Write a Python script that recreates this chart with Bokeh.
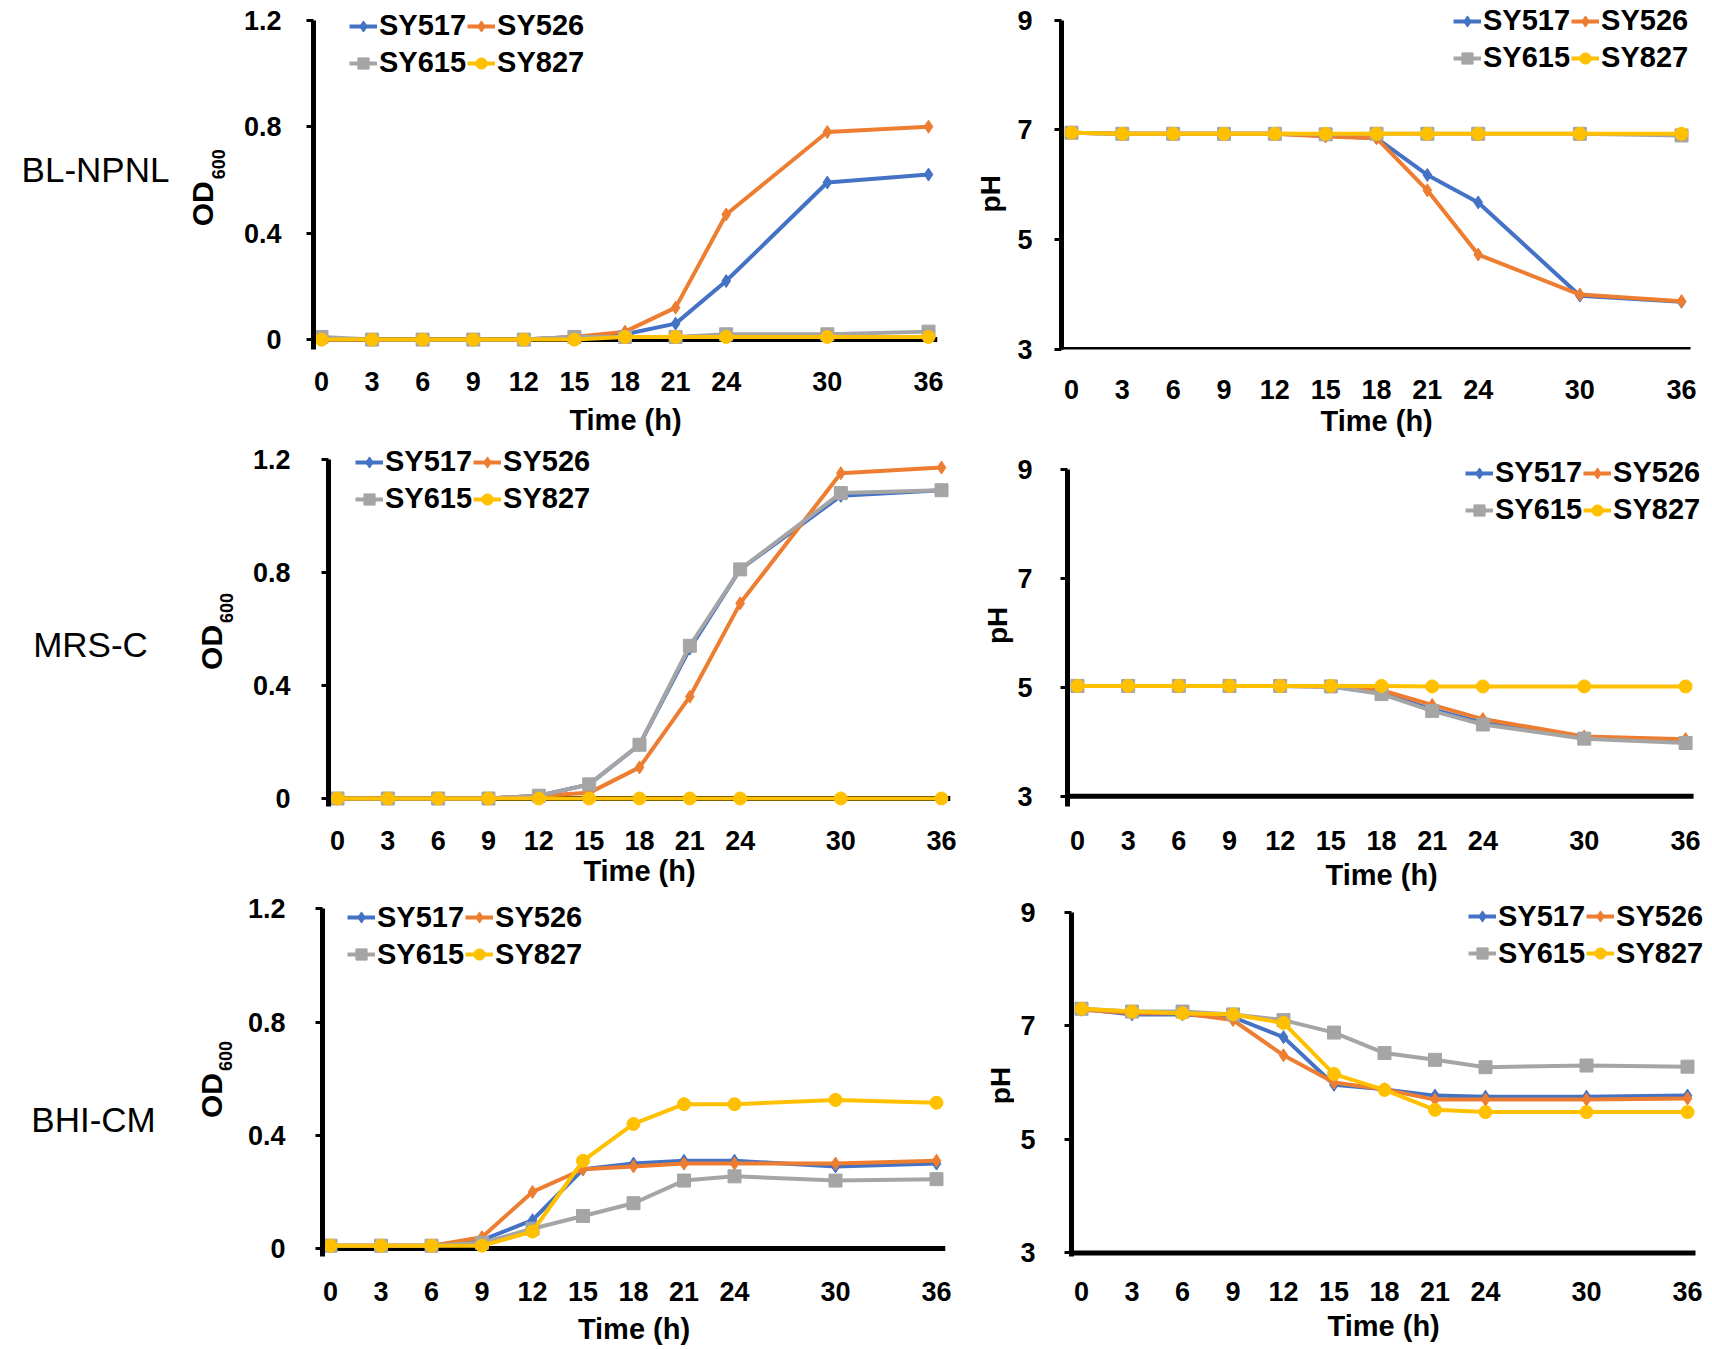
import math
from bokeh.plotting import figure
from bokeh.models import Range1d, FixedTicker, Legend, LegendItem, Label, Title
from bokeh.layouts import row, column
from bokeh.embed import file_html
from bokeh.resources import INLINE

# ---------------- data ----------------
time_h = [0, 3, 6, 9, 12, 15, 18, 21, 24, 30, 36]
strains = ["SY517", "SY526", "SY615", "SY827"]
colors = ["#4472C4", "#ED7D31", "#A5A5A5", "#FFC000"]
markers = ["diamond", "diamond", "square", "circle"]
media = ["BL-NPNL", "MRS-C", "BHI-CM"]
od_ticks = [0, 0.4, 0.8, 1.2]
ph_ticks = [3, 5, 7, 9]

# BL-NPNL
od_blnpnl_sy517 = [0.00, 0.00, 0.00, 0.00, 0.00, 0.01, 0.02, 0.06, 0.22, 0.59, 0.62]
od_blnpnl_sy526 = [0.00, 0.00, 0.00, 0.00, 0.00, 0.01, 0.03, 0.12, 0.47, 0.78, 0.80]
od_blnpnl_sy615 = [0.01, 0.00, 0.00, 0.00, 0.00, 0.01, 0.01, 0.01, 0.02, 0.02, 0.03]
od_blnpnl_sy827 = [0.00, 0.00, 0.00, 0.00, 0.00, 0.00, 0.01, 0.01, 0.01, 0.01, 0.01]
ph_blnpnl_sy517 = [6.95, 6.93, 6.93, 6.93, 6.93, 6.90, 6.85, 6.18, 5.68, 3.98, 3.87]
ph_blnpnl_sy526 = [6.95, 6.93, 6.93, 6.93, 6.93, 6.88, 6.85, 5.90, 4.73, 4.00, 3.88]
ph_blnpnl_sy615 = [6.95, 6.93, 6.93, 6.93, 6.93, 6.92, 6.93, 6.93, 6.93, 6.93, 6.90]
ph_blnpnl_sy827 = [6.95, 6.93, 6.93, 6.93, 6.93, 6.93, 6.93, 6.93, 6.93, 6.93, 6.93]

# MRS-C
od_mrsc_sy517 = [0.00, 0.00, 0.00, 0.00, 0.01, 0.05, 0.19, 0.53, 0.81, 1.07, 1.09]
od_mrsc_sy526 = [0.00, 0.00, 0.00, 0.00, 0.01, 0.02, 0.11, 0.36, 0.69, 1.15, 1.17]
od_mrsc_sy615 = [0.00, 0.00, 0.00, 0.00, 0.01, 0.05, 0.19, 0.54, 0.81, 1.08, 1.09]
od_mrsc_sy827 = [0.00, 0.00, 0.00, 0.00, 0.00, 0.00, 0.00, 0.00, 0.00, 0.00, 0.00]
ph_mrsc_sy517 = [5.03, 5.03, 5.03, 5.03, 5.03, 5.02, 4.90, 4.60, 4.35, 4.08, 4.00]
ph_mrsc_sy526 = [5.03, 5.03, 5.03, 5.03, 5.03, 5.02, 4.95, 4.68, 4.42, 4.10, 4.05]
ph_mrsc_sy615 = [5.03, 5.03, 5.03, 5.03, 5.03, 5.02, 4.88, 4.57, 4.32, 4.06, 3.98]
ph_mrsc_sy827 = [5.03, 5.03, 5.03, 5.03, 5.03, 5.03, 5.03, 5.02, 5.02, 5.02, 5.02]

# BHI-CM
od_bhicm_sy517 = [0.01, 0.01, 0.01, 0.03, 0.10, 0.28, 0.30, 0.31, 0.31, 0.29, 0.30]
od_bhicm_sy526 = [0.01, 0.01, 0.01, 0.04, 0.20, 0.28, 0.29, 0.30, 0.30, 0.30, 0.31]
od_bhicm_sy615 = [0.01, 0.01, 0.01, 0.02, 0.07, 0.115, 0.16, 0.24, 0.255, 0.24, 0.245]
od_bhicm_sy827 = [0.01, 0.01, 0.01, 0.01, 0.06, 0.31, 0.44, 0.51, 0.51, 0.525, 0.515]
ph_bhicm_sy517 = [7.30, 7.20, 7.20, 7.15, 6.80, 5.96, 5.88, 5.77, 5.75, 5.75, 5.77]
ph_bhicm_sy526 = [7.28, 7.22, 7.22, 7.10, 6.48, 6.00, 5.88, 5.70, 5.70, 5.70, 5.72]
ph_bhicm_sy615 = [7.30, 7.25, 7.25, 7.20, 7.10, 6.88, 6.52, 6.40, 6.27, 6.30, 6.28]
ph_bhicm_sy827 = [7.30, 7.25, 7.22, 7.20, 7.05, 6.15, 5.87, 5.52, 5.48, 5.48, 5.48]

od_sets = [
    [od_blnpnl_sy517, od_blnpnl_sy526, od_blnpnl_sy615, od_blnpnl_sy827],
    [od_mrsc_sy517, od_mrsc_sy526, od_mrsc_sy615, od_mrsc_sy827],
    [od_bhicm_sy517, od_bhicm_sy526, od_bhicm_sy615, od_bhicm_sy827],
]
ph_sets = [
    [ph_blnpnl_sy517, ph_blnpnl_sy526, ph_blnpnl_sy615, ph_blnpnl_sy827],
    [ph_mrsc_sy517, ph_mrsc_sy526, ph_mrsc_sy615, ph_mrsc_sy827],
    [ph_bhicm_sy517, ph_bhicm_sy526, ph_bhicm_sy615, ph_bhicm_sy827],
]

# ---------------- layout geometry (page pixels) ----------------
FONT = "Liberation Sans"
LABEL_W = 238
OD_LEFT, OD_W = 238, 722
PHT_LEFT, PHT_W = 960, 54
PH_LEFT, PH_W = 1014, 698
ROWS = [(0, 443), (443, 895), (895, 1349)]

TICK_FS, TITLE_FS = 27, 29
TICK_H = 0.82 * TICK_FS
TITLE_H = 1.2 * TITLE_FS
TITLE_W = 3.889 * TITLE_FS   # width of "Time (h)" in bold Liberation Sans
OD_PAD_PX = 8
LINE_W = 4
MARKER_SIZE = 13

OD_GEOM = [
    dict(L=313, x0=321, x36=928, R=937, yt=19.7, yb=339.5, leg=(349, 8),
         tick_c=382, title_c=420, ystand=25, lab=(95, 169), tit=(202, 218, 187.5)),
    dict(L=328, x0=337, x36=941, R=950, yt=458.6, yb=798.1, leg=(355, 444),
         tick_c=841, title_c=871, ystand=31, lab=(90, 644), tit=(211, 226, 631)),
    dict(L=322, x0=330, x36=936, R=945, yt=908.4, yb=1247.9, leg=(347, 899),
         tick_c=1291.6, title_c=1328.7, ystand=30, lab=(93, 1119), tit=(211, 225, 1079)),
]
PH_GEOM = [
    dict(L=1060, x0=1070, x36=1681, R=1690, yt=19.7, yb=349.4, leg=(1452, 3),
         tick_c=390, title_c=420, ystand=22, tit=(990, 193.5)),
    dict(L=1065, x0=1075, x36=1685, R=1693, yt=469.5, yb=795.9, leg=(1463, 455),
         tick_c=841, title_c=877, ystand=28, tit=(997, 625)),
    dict(L=1071, x0=1081, x36=1687, R=1695, yt=911.7, yb=1252.3, leg=(1468, 898),
         tick_c=1291.6, title_c=1328.7, ystand=29, tit=(1000, 1085)),
]
LEG_ROW = 36
LEG_SPACING = 1


def make_panel(g, row_top, row_bot, frame_bottom, fig_left, fig_w, frame_right,
               ymin, ymax, yticks, series, od):
    fig_h = row_bot - row_top
    kx = (g["x36"] - g["x0"]) / 36.0
    x_start = -(g["x0"] - g["L"]) / kx
    x_axis_end = 36 + (g["R"] - g["x36"]) / kx
    x_end = 36 + (frame_right - g["x36"]) / kx
    ky = (g["yb"] - g["yt"]) / (ymax - ymin)
    y_start = ymin - (frame_bottom - g["yb"]) / ky
    y_end = ymax + (g["yt"] - row_top) / ky
    bl = int(round(g["L"] - fig_left))
    br = int(round(fig_left + fig_w - frame_right))
    bb = int(round(row_bot - frame_bottom))
    p = figure(width=fig_w, height=fig_h, x_range=Range1d(x_start, x_end),
               y_range=Range1d(y_start, y_end), output_backend="svg",
               toolbar_location=None, title=None,
               min_border_left=bl, min_border_right=br,
               min_border_top=0, min_border_bottom=bb)
    p.xgrid.visible = False
    p.ygrid.visible = False
    p.outline_line_color = None

    # y axis
    p.yaxis.ticker = FixedTicker(ticks=yticks)
    p.yaxis.bounds = (y_start, ymax)
    p.yaxis.axis_line_width = 5
    p.yaxis.axis_line_color = "black"
    p.yaxis.major_tick_out = 7
    p.yaxis.major_tick_in = 0
    p.yaxis.major_tick_line_width = 3
    p.yaxis.minor_tick_out = 0
    p.yaxis.minor_tick_in = 0
    p.yaxis.major_label_standoff = g["ystand"]
    p.yaxis.major_label_text_font = FONT
    p.yaxis.major_label_text_font_style = "bold"
    p.yaxis.major_label_text_font_size = f"{TICK_FS}px"
    p.yaxis.major_label_text_color = "black"
    if od:
        p.yaxis.major_label_overrides = {0: "0", 0.4: "0.4", 0.8: "0.8", 1.2: "1.2"}

    # x axis (the axis line itself is drawn at y = ymin below)
    st = g["tick_c"] - frame_bottom - TICK_H / 2
    ts = max(0, g["title_c"] - TITLE_H / 2 - (g["tick_c"] + TICK_H / 2))
    p.xaxis.ticker = FixedTicker(ticks=time_h)
    p.xaxis.axis_line_color = None
    p.xaxis.major_tick_out = 0
    p.xaxis.major_tick_in = 0
    p.xaxis.minor_tick_out = 0
    p.xaxis.minor_tick_in = 0
    p.xaxis.major_label_standoff = int(round(st))
    p.xaxis.major_label_text_font = FONT
    p.xaxis.major_label_text_font_style = "bold"
    p.xaxis.major_label_text_font_size = f"{TICK_FS}px"
    p.xaxis.major_label_text_color = "black"
    axis_mid = (g["L"] + g["R"]) / 2.0
    frame_mid = (g["L"] + frame_right) / 2.0
    if abs(axis_mid - frame_mid) < 1:
        p.xaxis.axis_label = "Time (h)"
        p.xaxis.axis_label_text_font = FONT
        p.xaxis.axis_label_text_font_style = "bold"
        p.xaxis.axis_label_text_font_size = f"{TITLE_FS}px"
        p.xaxis.axis_label_text_color = "black"
        p.xaxis.axis_label_standoff = int(round(ts))
    else:
        # frame is wider than the axis (room for the legend): centre the title on the axis
        p.add_layout(Title(text="Time (h)", align="left",
                           offset=int(round(axis_mid - g["L"] - TITLE_W / 2)),
                           standoff=int(round(ts)), text_font=FONT,
                           text_font_style="bold", text_font_size=f"{TITLE_FS}px",
                           text_color="black"), "below")

    p.segment(x0=[x_start], y0=[ymin], x1=[x_axis_end], y1=[ymin],
              line_color="black", line_width=5, level="underlay")

    items = []
    for name, col, mk, vals in zip(strains, colors, markers, series):
        ln = p.line(time_h, vals, line_color=col, line_width=LINE_W)
        sc = p.scatter(time_h, vals, marker=mk, size=MARKER_SIZE, fill_color=col,
                       line_color=col)
        items.append(LegendItem(label=name, renderers=[ln, sc]))

    leg_h = 2 * LEG_ROW + LEG_SPACING
    lx, ltop = g["leg"]
    vx = lx - g["L"]
    vy = frame_bottom - (ltop + leg_h)
    legend = Legend(items=items, location=(vx, vy), orientation="horizontal", ncols=2,
                    glyph_width=28, glyph_height=LEG_ROW, label_height=LEG_ROW,
                    label_standoff=2, spacing=LEG_SPACING, padding=0, margin=0,
                    label_text_font=FONT, label_text_font_style="bold",
                    label_text_font_size="29px", label_text_color="black",
                    background_fill_alpha=0, border_line_alpha=0)
    p.add_layout(legend)
    return p


def blank_fig(x_left, w, row_top, row_bot, frame_bottom):
    # page-pixel coordinates: x to the right, y = -page_y
    p = figure(width=w, height=row_bot - row_top,
               x_range=Range1d(x_left, x_left + w),
               y_range=Range1d(-frame_bottom, -row_top),
               output_backend="svg", toolbar_location=None, title=None,
               x_axis_location=None, y_axis_location=None,
               min_border_left=0, min_border_right=0, min_border_top=0,
               min_border_bottom=int(round(row_bot - frame_bottom)))
    p.grid.visible = False
    p.outline_line_color = None
    return p


rows = []
for i in range(3):
    row_top, row_bot = ROWS[i]
    go, gp = OD_GEOM[i], PH_GEOM[i]
    frame_bottom = max(go["yb"] + OD_PAD_PX, gp["yb"])

    lab = blank_fig(0, LABEL_W, row_top, row_bot, frame_bottom)
    lx, ly = go["lab"]
    lab.add_layout(Label(x=lx, y=-ly, text=media[i], text_align="center",
                         text_baseline="middle", text_font=FONT,
                         text_font_size="35px", text_color="black"))
    xo, xs, yc = go["tit"]
    od_len, sub_len, gap = 45, 30, 2
    ybot = yc + (od_len + gap + sub_len) / 2
    lab.add_layout(Label(x=xo, y=-ybot, text="OD", angle=math.pi / 2,
                         text_align="left", text_baseline="middle", text_font=FONT,
                         text_font_style="bold", text_font_size="30px",
                         text_color="black"))
    lab.add_layout(Label(x=xs, y=-(ybot - od_len - gap), text="600",
                         angle=math.pi / 2, text_align="left",
                         text_baseline="middle", text_font=FONT,
                         text_font_style="bold", text_font_size="18px",
                         text_color="black"))

    od = make_panel(go, row_top, row_bot, frame_bottom, OD_LEFT, OD_W, go["R"],
                    0, 1.2, od_ticks, od_sets[i], True)

    pht = blank_fig(PHT_LEFT, PHT_W, row_top, row_bot, frame_bottom)
    tx, ty = gp["tit"]
    pht.add_layout(Label(x=tx, y=-ty, text="pH", angle=math.pi / 2,
                         text_align="center", text_baseline="middle", text_font=FONT,
                         text_font_style="bold", text_font_size="28px",
                         text_color="black"))

    ph = make_panel(gp, row_top, row_bot, frame_bottom, PH_LEFT, PH_W, PH_LEFT + PH_W,
                    3, 9, ph_ticks, ph_sets[i], False)
    rows.append(row(lab, od, pht, ph))

layout = column(*rows)
open("out.html", "w").write(file_html(layout, INLINE))
